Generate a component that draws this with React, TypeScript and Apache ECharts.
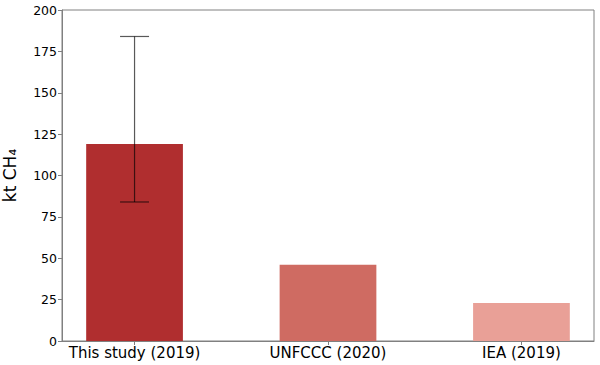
import React, { useEffect, useRef } from "react";
import * as echarts from "echarts";

const categories = ["This study (2019)", "UNFCCC (2020)", "IEA (2019)"];
const values = [119, 46, 23];
const barColors = ["#b02e2f", "#cf6b62", "#e9a097"];
const errorLow = [84, null, null];
const errorHigh = [184, null, null];
const yTicks = [0, 25, 50, 75, 100, 125, 150, 175, 200];

export default function App() {
  const ref = useRef<HTMLDivElement>(null);
  useEffect(() => {
    if (!ref.current) return;
    const chart = echarts.init(ref.current, null, { renderer: "svg" });
    const font = "DejaVu Sans";
    const errData = categories
      .map((_, i) => (errorLow[i] != null ? [i, errorLow[i], errorHigh[i]] : null))
      .filter((d) => d !== null);
    const barHalf = 0.25;
    chart.setOption({
      animation: false,
      grid: {
        left: 62,
        right: 6,
        top: 10,
        bottom: 24,
        show: true,
        borderColor: "#808080",
        borderWidth: 1,
        containLabel: false,
        outerBoundsMode: "none",
      },
      xAxis: {
        type: "value",
        min: -0.375,
        max: 2.375,
        splitLine: { show: false },
        axisLine: { show: true, onZero: false, lineStyle: { color: "#808080" } },
        axisTick: {
          show: true,
          customValues: [0, 1, 2],
          length: 4,
          lineStyle: { color: "#808080" },
        },
        axisLabel: {
          customValues: [0, 1, 2],
          formatter: (v: number) => categories[Math.round(v)] ?? "",
          color: "#000",
          fontFamily: font,
          fontSize: 15,
          margin: 4,
        },
      },
      yAxis: {
        type: "value",
        min: 0,
        max: 200,
        interval: 25,
        splitLine: { show: false },
        axisLine: { show: true, onZero: false, lineStyle: { color: "#808080" } },
        axisTick: { show: true, length: 4, lineStyle: { color: "#808080" } },
        axisLabel: {
          color: "#000",
          fontFamily: font,
          fontSize: 12.5,
          margin: 5,
          formatter: (v: number) => (yTicks.includes(v) ? String(v) : ""),
        },
        name: "kt CH₄",
        nameLocation: "middle",
        nameGap: 44,
        nameRotate: 90,
        nameTextStyle: { color: "#000", fontFamily: font, fontSize: 17 },
      },
      series: [
        {
          type: "custom",
          data: values.map((v, i) => [i, v]),
          z: 2,
          renderItem: (params: any, api: any) => {
            const x = api.value(0);
            const v = api.value(1);
            const p0 = api.coord([x - barHalf, v]);
            const p1 = api.coord([x + barHalf, 0]);
            return {
              type: "rect",
              shape: { x: p0[0], y: p0[1], width: p1[0] - p0[0], height: p1[1] - p0[1] },
              style: { fill: barColors[params.dataIndex] },
            };
          },
        },
        {
          type: "custom",
          data: errData,
          z: 10,
          renderItem: (params: any, api: any) => {
            const x = api.value(0);
            const lo = api.coord([x, api.value(1)]);
            const hi = api.coord([x, api.value(2)]);
            const half = 14.5;
            const style = { stroke: "rgba(0,0,0,0.65)", lineWidth: 1.2 };
            return {
              type: "group",
              children: [
                { type: "line", shape: { x1: lo[0], y1: lo[1], x2: hi[0], y2: hi[1] }, style },
                { type: "line", shape: { x1: lo[0] - half, y1: lo[1], x2: lo[0] + half, y2: lo[1] }, style },
                { type: "line", shape: { x1: hi[0] - half, y1: hi[1], x2: hi[0] + half, y2: hi[1] }, style },
              ],
            };
          },
        },
      ],
    });
    return () => chart.dispose();
  }, []);
  return <div ref={ref} style={{ width: 600, height: 365, position: "absolute", left: 0, top: 0 }} />;
}
